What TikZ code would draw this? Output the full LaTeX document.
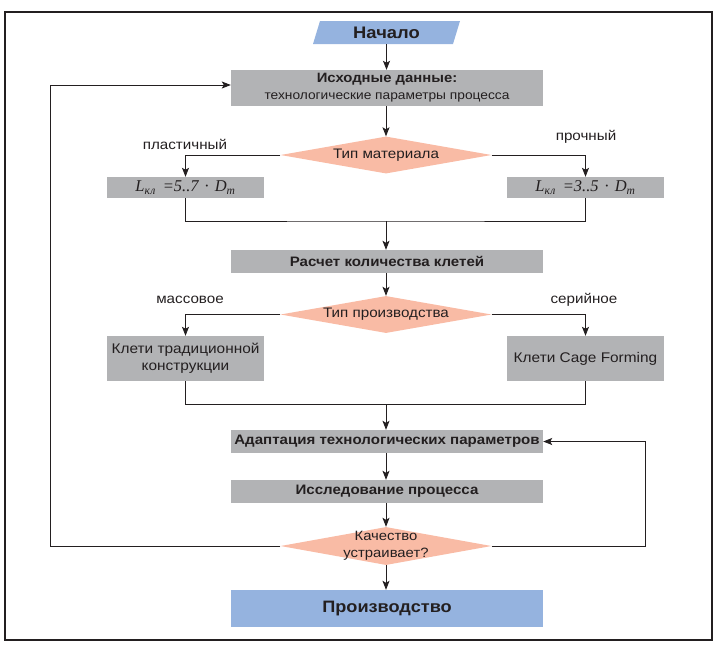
\documentclass[tikz,border=0pt]{standalone}
\usepackage{fontspec}
\setmainfont[FakeStretch=1.1]{Liberation Sans}
\newfontfamily\lserif{Liberation Serif}
\usetikzlibrary{shapes.geometric,arrows.meta}
\definecolor{boxgray}{HTML}{B2B3B5}
\definecolor{boxblue}{HTML}{95B3DF}
\definecolor{dsalmon}{HTML}{F9BBA5}
\definecolor{ink}{HTML}{231F20}
\begin{document}
\begin{tikzpicture}[x=1pt,y=-1pt,
  graybox/.style={fill=boxgray,draw=none,minimum width=312pt,inner sep=0pt,align=center,text=ink},
  sidebox/.style={fill=boxgray,draw=none,minimum width=157pt,inner sep=0pt,align=center,text=ink},
  bluebox/.style={fill=boxblue,draw=none,minimum width=312pt,minimum height=37pt,inner sep=0pt,text=ink},
  decision/.style={diamond,fill=dsalmon,draw=none,inner sep=0pt,aspect=1,minimum width=211pt},
  lbl/.style={font=\fontsize{13.8}{16}\selectfont,text=ink,inner sep=0pt},
  conn/.style={draw=ink,line width=0.9pt},
  arr/.style={conn,-{Stealth[length=9pt,width=7pt,inset=2pt]}},
  boldtxt/.style={font=\fontsize{13.7}{16}\selectfont\bfseries},
  formula/.style={font=\lserif\itshape\fontsize{16.5}{18}\selectfont},
]
\useasboundingbox (0,0) rectangle (722,649);
\draw[ink,line width=1.4pt] (5,12) rectangle (712,640);

% start parallelogram
\fill[boxblue] (320,21) -- (460,21) -- (453,44) -- (313,44) -- cycle;
\node[minimum height=23pt,minimum width=130pt,inner sep=0pt,text=ink,font=\fontsize{16.7}{20}\selectfont\bfseries] (start) at (386.5,32.5) {Начало};

\node[graybox,minimum height=36pt,font=\fontsize{12.5}{17}\selectfont] (src) at (387,88)
  {{\fontsize{13.5}{17}\selectfont\bfseries Исходные данные:}\\технологические параметры процесса};

\node[decision,minimum height=37pt] (dmat) at (386,155) {};
\node[lbl] (dmattxt) at (386,155) {Тип материала};
\node[lbl] (lplast) at (185,144) {пластичный};
\node[lbl] (lstrong) at (586,137) {прочный};

\node[sidebox,minimum height=21pt,formula] (lleft) at (185.5,187.5)
  {L\textsubscript{кл}\hspace{7pt}=5..7\hspace{6pt}·\hspace{6pt}D\textsubscript{т}};
\node[sidebox,minimum height=21pt,formula] (lright) at (585.5,187.5)
  {L\textsubscript{кл}\hspace{7pt}=3..5\hspace{6pt}·\hspace{6pt}D\textsubscript{т}};
\coordinate (m1) at (386,221);

\node[graybox,minimum height=23pt,boldtxt] (calc) at (387,261.5) {Расчет количества клетей};

\node[decision,minimum height=37pt] (dprod) at (386,314.5) {};
\node[lbl] (dprodtxt) at (386,314.5) {Тип производства};
\node[lbl] (lmass) at (190,300) {массовое};
\node[lbl] (lser) at (584,300) {серийное};

\node[sidebox,minimum height=45pt,font=\fontsize{14}{17}\selectfont] (trad) at (185.5,358.5) {Клети традиционной\\конструкции};
\node[sidebox,minimum height=45pt,font=\fontsize{14}{17}\selectfont] (cage) at (585.5,358.5) {Клети Cage Forming};
\coordinate (m2) at (386,404);

\node[graybox,minimum height=23pt,boldtxt] (adapt) at (387,441.5) {Адаптация технологических параметров};
\node[graybox,minimum height=23pt,boldtxt] (res) at (387,491.5) {Исследование процесса};

\node[decision,minimum height=38pt] (dq) at (386,546) {};
\node[lbl,align=center,font=\fontsize{13.5}{17}\selectfont] (dqtxt) at (386,546) {Качество\\устраивает?};

\node[bluebox,font=\fontsize{16.5}{20}\selectfont\bfseries] (prod) at (387,608.5) {Производство};

% connectors
\draw[arr] (start.south) -- (src.north -| start.south);
\draw[arr] (src.south -| dmat.north) -- (dmat.north);
\draw[arr] (dmat.west) -| (lleft.north);
\draw[arr] (dmat.east) -| (lright.north);
\draw[conn] (lleft.south) |- (m1) -| (lright.south);
\draw[arr] (m1) -- (calc.north -| m1);
\draw[arr] (calc.south -| dprod.north) -- (dprod.north);
\draw[arr] (dprod.west) -| (trad.north);
\draw[arr] (dprod.east) -| (cage.north);
\draw[conn] (trad.south) |- (m2) -| (cage.south);
\draw[arr] (m2) -- (adapt.north -| m2);
\draw[arr] (adapt.south -| m2) -- (res.north -| m2);
\draw[arr] (res.south -| dq.north) -- (dq.north);
\draw[arr] (dq.south) -- (prod.north -| dq.south);
\coordinate (lb) at (50,546);
\coordinate (lt) at (50,85);
\draw[arr] (dq.west) -- (lb) -- (lt) -- (lt -| src.west);
\coordinate (rb) at (645,546);
\draw[arr] (dq.east) -- (rb) |- (adapt.east);
\end{tikzpicture}
\end{document}
